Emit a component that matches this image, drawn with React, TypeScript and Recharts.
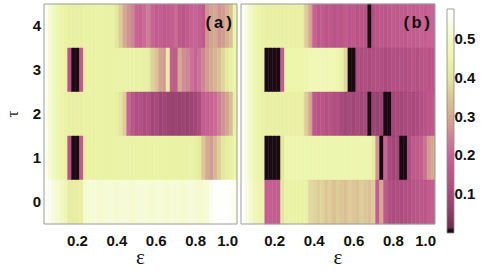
import React from 'react';
import { BarChart, Bar, XAxis, YAxis, Cell, Label } from 'recharts';

// ε cell centres (grid step 0.02)
const eps = [
  0.04, 0.06, 0.08, 0.10, 0.12, 0.14, 0.16, 0.18, 0.20, 0.22,
  0.24, 0.26, 0.28, 0.30, 0.32, 0.34, 0.36, 0.38, 0.40, 0.42,
  0.44, 0.46, 0.48, 0.50, 0.52, 0.54, 0.56, 0.58, 0.60, 0.62,
  0.64, 0.66, 0.68, 0.70, 0.72, 0.74, 0.76, 0.78, 0.80, 0.82,
  0.84, 0.86, 0.88, 0.90, 0.92, 0.94, 0.96, 0.98, 1.00,
];
const tauValues = [4, 3, 2, 1, 0];
const xTicks = [0.2, 0.4, 0.6, 0.8, 1.0];
const colorbarTicks = [0.1, 0.2, 0.3, 0.4, 0.5];
const colorMax = 0.575;
const epsDomain: [number, number] = [0.03, 1.01];

// Panel (a)
const aTau4 = [
  0.56, 0.52, 0.49, 0.47, 0.45, 0.44, 0.43, 0.43, 0.43, 0.43,
  0.44, 0.44, 0.44, 0.44, 0.44, 0.44, 0.44, 0.44, 0.40, 0.36,
  0.30, 0.27, 0.25, 0.20, 0.19, 0.21, 0.24, 0.20, 0.17, 0.18,
  0.16, 0.17, 0.18, 0.21, 0.16, 0.15, 0.17, 0.19, 0.20, 0.18,
  0.16, 0.27, 0.29, 0.30, 0.27, 0.28, 0.31, 0.34, 0.45,
];
const aTau3 = [
  0.56, 0.52, 0.49, 0.47, 0.45, 0.44, 0.14, 0.00, 0.00, 0.16,
  0.43, 0.44, 0.44, 0.44, 0.44, 0.44, 0.44, 0.44, 0.44, 0.44,
  0.44, 0.44, 0.44, 0.44, 0.44, 0.43, 0.42, 0.37, 0.35, 0.29,
  0.28, 0.42, 0.18, 0.17, 0.30, 0.26, 0.25, 0.22, 0.20, 0.22,
  0.25, 0.28, 0.30, 0.32, 0.34, 0.37, 0.40, 0.43, 0.45,
];
const aTau2 = [
  0.56, 0.52, 0.49, 0.47, 0.45, 0.44, 0.43, 0.43, 0.43, 0.43,
  0.44, 0.44, 0.44, 0.44, 0.44, 0.44, 0.44, 0.44, 0.43, 0.40,
  0.36, 0.20, 0.15, 0.12, 0.13, 0.11, 0.12, 0.09, 0.10, 0.08,
  0.09, 0.08, 0.07, 0.08, 0.07, 0.08, 0.07, 0.08, 0.09, 0.11,
  0.18, 0.19, 0.20, 0.21, 0.24, 0.27, 0.29, 0.33, 0.43,
];
const aTau1 = [
  0.56, 0.52, 0.49, 0.47, 0.45, 0.44, 0.14, 0.00, 0.00, 0.16,
  0.43, 0.44, 0.44, 0.44, 0.44, 0.44, 0.44, 0.44, 0.44, 0.44,
  0.44, 0.44, 0.44, 0.44, 0.44, 0.44, 0.44, 0.44, 0.44, 0.44,
  0.44, 0.44, 0.44, 0.44, 0.44, 0.44, 0.44, 0.44, 0.43, 0.41,
  0.35, 0.30, 0.28, 0.32, 0.36, 0.40, 0.42, 0.43, 0.45,
];
const aTau0 = [
  0.57, 0.55, 0.53, 0.51, 0.49, 0.47, 0.42, 0.42, 0.42, 0.43,
  0.51, 0.52, 0.52, 0.52, 0.51, 0.52, 0.52, 0.52, 0.51, 0.52,
  0.52, 0.52, 0.51, 0.52, 0.52, 0.52, 0.52, 0.51, 0.52, 0.52,
  0.52, 0.51, 0.52, 0.52, 0.52, 0.51, 0.52, 0.52, 0.52, 0.51,
  0.51, 0.52, 0.55, 0.57, 0.57, 0.57, 0.57, 0.56, 0.55,
];

// Panel (b)
const bTau4 = [
  0.57, 0.53, 0.50, 0.47, 0.45, 0.44, 0.43, 0.43, 0.43, 0.43,
  0.43, 0.43, 0.43, 0.43, 0.43, 0.43, 0.36, 0.30, 0.20, 0.16,
  0.17, 0.15, 0.16, 0.14, 0.16, 0.15, 0.17, 0.15, 0.16, 0.14,
  0.15, 0.14, 0.00, 0.13, 0.15, 0.16, 0.15, 0.16, 0.17, 0.16,
  0.17, 0.16, 0.18, 0.17, 0.18, 0.19, 0.18, 0.19, 0.20,
];
const bTau3 = [
  0.57, 0.53, 0.50, 0.47, 0.45, 0.44, 0.00, 0.00, 0.00, 0.00,
  0.18, 0.45, 0.45, 0.45, 0.45, 0.45, 0.46, 0.47, 0.47, 0.47,
  0.47, 0.47, 0.47, 0.47, 0.46, 0.44, 0.38, 0.00, 0.00, 0.12,
  0.11, 0.12, 0.11, 0.12, 0.13, 0.12, 0.11, 0.12, 0.13, 0.12,
  0.13, 0.12, 0.13, 0.14, 0.13, 0.14, 0.15, 0.14, 0.15,
];
const bTau2 = [
  0.57, 0.53, 0.50, 0.47, 0.45, 0.44, 0.43, 0.43, 0.43, 0.43,
  0.43, 0.43, 0.43, 0.43, 0.43, 0.43, 0.36, 0.30, 0.16, 0.14,
  0.15, 0.13, 0.14, 0.12, 0.13, 0.10, 0.09, 0.10, 0.09, 0.10,
  0.09, 0.10, 0.00, 0.08, 0.07, 0.08, 0.00, 0.00, 0.09, 0.10,
  0.09, 0.10, 0.11, 0.10, 0.11, 0.13, 0.14, 0.15, 0.16,
];
const bTau1 = [
  0.57, 0.53, 0.50, 0.47, 0.45, 0.44, 0.00, 0.00, 0.00, 0.00,
  0.40, 0.46, 0.46, 0.46, 0.46, 0.46, 0.46, 0.46, 0.46, 0.46,
  0.46, 0.46, 0.46, 0.46, 0.46, 0.46, 0.46, 0.46, 0.46, 0.46,
  0.46, 0.46, 0.46, 0.42, 0.27, 0.00, 0.20, 0.10, 0.09, 0.10,
  0.00, 0.00, 0.12, 0.16, 0.17, 0.18, 0.22, 0.28, 0.30,
];
const bTau0 = [
  0.57, 0.54, 0.51, 0.48, 0.46, 0.45, 0.18, 0.18, 0.18, 0.18,
  0.40, 0.44, 0.44, 0.44, 0.44, 0.44, 0.44, 0.38, 0.37, 0.36,
  0.37, 0.35, 0.36, 0.34, 0.36, 0.35, 0.34, 0.36, 0.35, 0.34,
  0.36, 0.35, 0.34, 0.36, 0.18, 0.30, 0.16, 0.12, 0.11, 0.12,
  0.11, 0.12, 0.13, 0.14, 0.15, 0.16, 0.15, 0.17, 0.18,
];

// rows in the same order as tauValues (top to bottom)
const panelA = [aTau4, aTau3, aTau2, aTau1, aTau0];
const panelB = [bTau4, bTau3, bTau2, bTau1, bTau0];

// colour map (value -> colour)
const cmapStops: [number, string][] = [
  [0.0, '#1a0a12'],
  [0.008, '#1a0a12'],
  [0.014, '#6c2c4c'],
  [0.05, '#8c3c66'],
  [0.1, '#a84a7c'],
  [0.15, '#bc5689'],
  [0.2, '#c86494'],
  [0.25, '#ce8696'],
  [0.3, '#d5aa90'],
  [0.35, '#dcc696'],
  [0.4, '#e4e89e'],
  [0.45, '#ecf5a8'],
  [0.5, '#f3f9c8'],
  [0.575, '#ffffff'],
];

function hexToRgb(h: string) {
  return [parseInt(h.slice(1, 3), 16), parseInt(h.slice(3, 5), 16), parseInt(h.slice(5, 7), 16)];
}
function colorFor(v: number) {
  if (v <= cmapStops[0][0]) return cmapStops[0][1];
  for (let i = 1; i < cmapStops.length; i++) {
    const [v1, c1] = cmapStops[i];
    if (v <= v1) {
      const [v0, c0] = cmapStops[i - 1];
      const t = (v - v0) / (v1 - v0);
      const a = hexToRgb(c0);
      const b = hexToRgb(c1);
      const m = a.map((x, j) => Math.round(x + (b[j] - x) * t));
      return `rgb(${m[0]},${m[1]},${m[2]})`;
    }
  }
  return cmapStops[cmapStops.length - 1][1];
}

const cellWidth = eps[1] - eps[0];
function buildRows() {
  return tauValues.map((tau) => {
    const row: Record<string, number> = { tau, offset: eps[0] - cellWidth / 2 };
    eps.forEach((_, k) => {
      row['c' + k] = cellWidth;
    });
    return row;
  });
}
const rows = buildRows();

const tickFont = "'Liberation Sans', Arial, Helvetica, sans-serif";
const frameColor = '#9c9c9c';

const XTick = (props: any) => {
  const { x, y, payload } = props;
  const last = payload.value >= 1;
  return (
    <text
      x={last ? x + 3 : x}
      y={y + 21.5}
      textAnchor={last ? 'end' : 'middle'}
      fontFamily={tickFont}
      fontWeight="bold"
      fontSize={15}
      fill="#111"
    >
      {Number(payload.value).toFixed(1)}
    </text>
  );
};

const YTick = (props: any) => {
  const { x, y, payload } = props;
  return (
    <text x={x - 3} y={y + 5.4} textAnchor="end" fontFamily={tickFont} fontWeight="bold" fontSize={15} fill="#111">
      {payload.value}
    </text>
  );
};

const CbTick = (props: any) => {
  const { x, y, payload } = props;
  return (
    <text x={x - 1.5} y={y + 5.4} textAnchor="start" fontFamily={tickFont} fontWeight="bold" fontSize={15} fill="#111">
      {Number(payload.value).toFixed(1)}
    </text>
  );
};

function Panel({
  values,
  title,
  showY,
  width,
  marginLeft,
  marginRight,
  yWidth,
}: {
  values: number[][];
  title: string;
  showY: boolean;
  width: number;
  marginLeft: number;
  marginRight: number;
  yWidth: number;
}) {
  return (
    <BarChart
      width={width}
      height={277}
      data={rows}
      layout="vertical"
      margin={{ top: 3, right: marginRight, bottom: 0, left: marginLeft }}
      barCategoryGap={0}
      barGap={0}
    >
      <XAxis
        type="number"
        domain={epsDomain}
        allowDataOverflow
        ticks={xTicks}
        height={53}
        tickSize={0}
        tickMargin={0}
        tickLine={false}
        axisLine={{ stroke: frameColor }}
        tick={XTick}
      >
        <Label
          content={(p: any) => {
            const vb = p.viewBox;
            return (
              <text
                x={vb.x + vb.width / 2}
                y={vb.y + 40}
                textAnchor="middle"
                fontFamily="'Liberation Serif', 'DejaVu Serif', serif"
                fontSize={21}
                fill="#111"
              >
                ε
              </text>
            );
          }}
        />
      </XAxis>
      <XAxis
        xAxisId="top"
        orientation="top"
        type="number"
        domain={epsDomain}
        allowDataOverflow
        height={1}
        tick={false}
        tickLine={false}
        axisLine={{ stroke: frameColor }}
      >
        <Label
          content={(p: any) => {
            const vb = p.viewBox;
            return (
              <text
                x={vb.x + vb.width - 3}
                y={vb.y + vb.height + 24}
                textAnchor="end"
                fontFamily="'Liberation Mono', 'DejaVu Sans Mono', monospace"
                fontWeight="bold"
                fontSize={17}
                fill="#111"
              >
                {title}
              </text>
            );
          }}
        />
      </XAxis>
      <YAxis
        type="category"
        dataKey="tau"
        width={yWidth}
        tickSize={0}
        tickMargin={0}
        tickLine={false}
        axisLine={{ stroke: frameColor }}
        tick={showY ? YTick : false}
      >
        {showY && (
          <Label
            content={(p: any) => {
              const vb = p.viewBox;
              const cx = vb.x + 18;
              const cy = vb.y + vb.height / 2;
              return (
                <text
                  x={cx}
                  y={cy}
                  transform={`rotate(-90 ${cx} ${cy})`}
                  textAnchor="middle"
                  fontFamily="'Liberation Serif', 'DejaVu Serif', serif"
                  fontSize={17}
                  fill="#111"
                >
                  τ
                </text>
              );
            }}
          />
        )}
      </YAxis>
      <YAxis
        yAxisId="right"
        orientation="right"
        type="category"
        dataKey="tau"
        width={1}
        tick={false}
        tickLine={false}
        axisLine={{ stroke: frameColor }}
      />
      <Bar dataKey="offset" stackId="s" fill="none" isAnimationActive={false} />
      {eps.map((_, k) => (
        <Bar key={k} dataKey={'c' + k} stackId="s" isAnimationActive={false}>
          {values.map((row, i) => {
            const c = colorFor(row[k]);
            return <Cell key={i} fill={c} stroke={c} strokeWidth={0.5} />;
          })}
        </Bar>
      ))}
    </BarChart>
  );
}

function ColorBar() {
  return (
    <BarChart
      width={45}
      height={277}
      data={[{ name: 'cb', v: colorMax }]}
      margin={{ top: 9, right: 0, bottom: 44, left: 7 }}
      barCategoryGap={0}
    >
      <defs>
        <linearGradient id="cbGrad" x1="0" y1="1" x2="0" y2="0">
          {cmapStops.map(([v, c], i) => (
            <stop key={i} offset={v / colorMax} stopColor={c} />
          ))}
        </linearGradient>
      </defs>
      <XAxis dataKey="name" type="category" hide />
      <YAxis
        orientation="right"
        type="number"
        domain={[0, colorMax]}
        ticks={colorbarTicks}
        width={31}
        axisLine={false}
        tickSize={2}
        tickMargin={0}
        tickLine={{ stroke: '#999' }}
        tick={CbTick}
      />
      <Bar dataKey="v" fill="url(#cbGrad)" stroke="#888" strokeWidth={0.8} isAnimationActive={false} />
    </BarChart>
  );
}

export default function App() {
  return (
    <div style={{ position: 'absolute', left: 0, top: 0, width: 485, height: 277, background: '#fff' }}>
      <div style={{ position: 'absolute', left: 0, top: 0 }}>
        <Panel values={panelA} title="(a)" showY width={240} marginLeft={0} marginRight={2} yWidth={44} />
      </div>
      <div style={{ position: 'absolute', left: 240, top: 0 }}>
        <Panel values={panelB} title="(b)" showY={false} width={200} marginLeft={0} marginRight={4} yWidth={1} />
      </div>
      <div style={{ position: 'absolute', left: 440, top: 0 }}>
        <ColorBar />
      </div>
    </div>
  );
}
